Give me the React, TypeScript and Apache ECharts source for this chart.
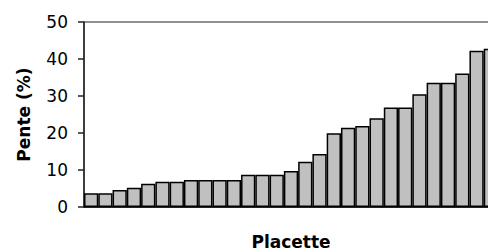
import React, { useEffect, useRef } from "react";
import * as echarts from "echarts";

const categories = Array.from({ length: 29 }, (_, i) => `P${i + 1}`);
const slopeValues = [
  3.7, 3.7, 4.6, 5.2, 6.3, 6.8, 6.8, 7.3, 7.3, 7.3, 7.3, 8.7, 8.7, 8.7, 9.7,
  12.2, 14.3, 19.9, 21.4, 21.9, 24.0, 26.9, 26.9, 30.5, 33.6, 33.6, 36.1, 42.2,
  42.8,
];
const yTicks = { min: 0, max: 50, interval: 10 };

export default function App() {
  const ref = useRef<HTMLDivElement>(null);
  useEffect(() => {
    if (!ref.current) return;
    const chart = echarts.init(ref.current, undefined, { renderer: "svg" });
    chart.setOption({
      animation: false,
      backgroundColor: "#ffffff",
      grid: {
        left: 84,
        top: 22,
        width: 414,
        height: 185,
        show: true,
        borderColor: "#222",
        borderWidth: 1,
        backgroundColor: "transparent",
        containLabel: false,
        outerBoundsMode: "none",
      },
      xAxis: {
        type: "category",
        data: categories,
        name: "Placette",
        nameLocation: "middle",
        nameGap: 26,
        nameTextStyle: {
          fontFamily: "DejaVu Sans",
          fontWeight: "bold",
          fontSize: 17,
          color: "#000",
          verticalAlign: "top",
        },
        axisLine: { show: true, lineStyle: { color: "#000", width: 1.5 } },
        axisTick: { show: false },
        axisLabel: { show: false },
        splitLine: { show: false },
      },
      yAxis: {
        type: "value",
        min: yTicks.min,
        max: yTicks.max,
        interval: yTicks.interval,
        name: "Pente (%)",
        nameLocation: "middle",
        nameGap: 52,
        nameTextStyle: {
          fontFamily: "DejaVu Sans",
          fontWeight: "bold",
          fontSize: 17,
          color: "#000",
        },
        axisLine: { show: true, lineStyle: { color: "#222", width: 1.5 } },
        axisTick: {
          show: true,
          inside: false,
          length: 6,
          lineStyle: { color: "#222", width: 1.5 },
        },
        axisLabel: {
          margin: 16,
          fontFamily: "DejaVu Sans",
          fontSize: 17,
          color: "#000",
        },
        splitLine: { show: false },
      },
      series: [
        {
          type: "bar",
          data: slopeValues,
          barCategoryGap: "0%",
          itemStyle: {
            color: "#c0c0c0",
            borderColor: "#000",
            borderWidth: 1.5,
          },
        },
      ],
    });
    return () => chart.dispose();
  }, []);
  return (
    <div
      ref={ref}
      style={{ position: "fixed", left: 0, top: 0, width: 488, height: 250 }}
    />
  );
}
